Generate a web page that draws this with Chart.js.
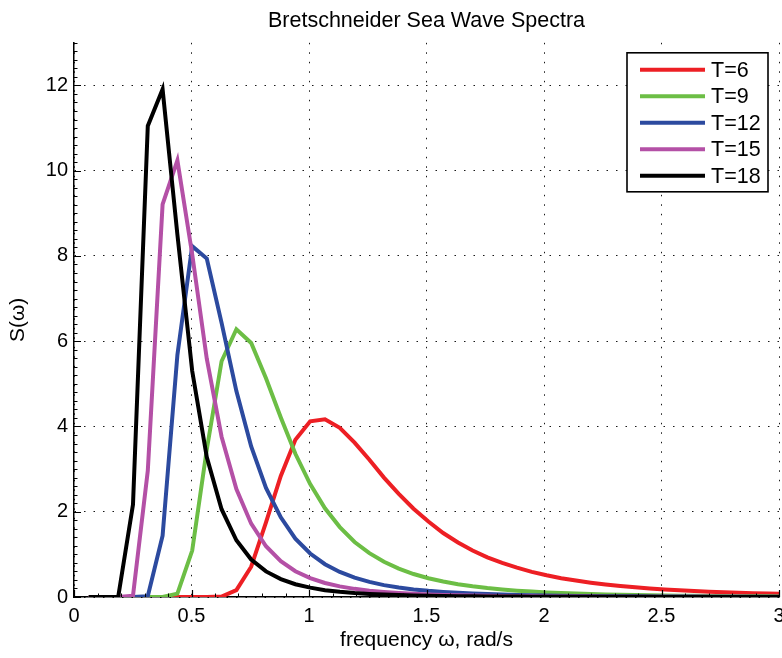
<!DOCTYPE html>
<html>
<head>
<meta charset="utf-8">
<script src="https://cdn.jsdelivr.net/npm/chart.js@4/dist/chart.umd.min.js"></script>
<style>
html,body{margin:0;padding:0;background:#fff;}
canvas{display:block;}
</style>
</head>
<body>
<canvas id="c" width="782" height="658" style="width:782px;height:658px"></canvas>
<script>
// frequency samples (rad/s)
const omega = [0.063,0.126,0.188,0.251,0.314,0.377,0.440,0.503,0.565,0.628,0.691,0.754,0.817,0.880,0.942,1.005,1.068,1.131,1.194,1.257,1.319,1.382,1.445,1.508,1.571,1.634,1.696,1.759,1.822,1.885,1.948,2.011,2.073,2.136,2.199,2.262,2.325,2.388,2.450,2.513,2.576,2.639,2.702,2.765,2.827,2.890,2.953,3.016];

// spectral density values
const S_T6  = [0,0,0,0,0,0,0,0,0,0.01,0.16,0.71,1.75,2.84,3.69,4.12,4.17,3.97,3.62,3.22,2.80,2.42,2.07,1.77,1.50,1.28,1.09,0.93,0.80,0.69,0.59,0.51,0.44,0.385,0.336,0.294,0.258,0.227,0.200,0.177,0.157,0.139,0.124,0.111,0.099,0.089,0.080,0.072];
const S_T9  = [0,0,0,0,0,0,0.08,1.09,3.46,5.53,6.28,5.96,5.13,4.21,3.36,2.65,2.08,1.64,1.29,1.03,0.825,0.665,0.539,0.440,0.362,0.300,0.250,0.209,0.176,0.149,0.127,0.108,0.092,0.080,0.069,0.060,0.053,0.046,0.041,0.036,0.032,0.028,0.025,0.022,0.020,0.018,0.016,0.014];
const S_T12 = [0,0,0,0,0.02,1.44,5.68,8.23,7.94,6.43,4.83,3.53,2.56,1.87,1.37,1.02,0.770,0.587,0.453,0.354,0.279,0.222,0.178,0.144,0.119,0.098,0.081,0.068,0.057,0.048,0.041,0.035,0.030,0.026,0.022,0.019,0.017,0.015,0.013,0.011,0.010,0.009,0.008,0.007,0.006,0.006,0.005,0.005];
const S_T15 = [0,0,0,0.03,2.96,9.21,10.24,8.04,5.59,3.76,2.53,1.72,1.19,0.840,0.604,0.442,0.329,0.249,0.191,0.148,0.117,0.093,0.074,0.060,0.049,0.040,0.034,0.028,0.023,0.020,0.017,0.014,0.012,0.011,0.009,0.008,0.007,0.006,0.005,0.005,0.004,0.004,0.003,0.003,0.003,0.002,0.002,0.002];
const S_T18 = [0,0,0,2.17,11.05,11.91,8.50,5.30,3.28,2.06,1.33,0.88,0.60,0.42,0.30,0.22,0.160,0.121,0.092,0.072,0.057,0.045,0.036,0.029,0.024,0.020,0.016,0.014,0.011,0.010,0.008,0.007,0.006,0.005,0.004,0.004,0.003,0.003,0.003,0.002,0.002,0.002,0.002,0.001,0.001,0.001,0.001,0.001];

const seriesLabels = ['T=6','T=9','T=12','T=15','T=18'];
const seriesValues = [S_T6, S_T9, S_T12, S_T15, S_T18];
const seriesColors = ['#ED1F24','#6CBE45','#2C4A9F','#B450A6','#000000'];

const xTickValues = [0,0.5,1,1.5,2,2.5,3];
const yTickValues = [0,2,4,6,8,10,12];

const FONT = "'Liberation Sans', Arial, Helvetica, sans-serif";
const FS = 20;

const datasets = seriesValues.map((vals, i) => ({
  label: seriesLabels[i],
  data: omega.map((w, j) => ({x: w, y: vals[j]})),
  borderColor: seriesColors[i],
  backgroundColor: seriesColors[i],
  borderWidth: 4,
  pointRadius: 0,
  tension: 0,
  fill: false,
  borderJoinStyle: 'miter',
  order: seriesValues.length - i
}));

const inwardTicks = {
  id: 'inwardTicks',
  afterDatasetsDraw(chart) {
    const {ctx, chartArea, scales} = chart;
    const xs = scales.x, ys = scales.y;
    ctx.save();
    ctx.strokeStyle = '#000';
    ctx.lineWidth = 1;
    ctx.beginPath();
    for (let v = 0; v <= 13.001; v += 0.2) {
      const py = Math.round(ys.getPixelForValue(v)) + 0.5;
      ctx.moveTo(chartArea.left, py); ctx.lineTo(chartArea.left + 3.5, py);
    }
    for (let v = 0; v <= 3.001; v += 0.1) {
      const px = Math.round(xs.getPixelForValue(v)) + 0.5;
      ctx.moveTo(px, chartArea.bottom); ctx.lineTo(px, chartArea.bottom - 3.5);
    }
    ctx.stroke();
    ctx.lineWidth = 1.2;
    ctx.beginPath();
    yTickValues.forEach(v => {
      const py = Math.round(ys.getPixelForValue(v)) + 0.5;
      ctx.moveTo(chartArea.left, py); ctx.lineTo(chartArea.left + 7, py);
    });
    xTickValues.forEach(v => {
      const px = Math.round(xs.getPixelForValue(v)) + 0.5;
      ctx.moveTo(px, chartArea.bottom); ctx.lineTo(px, chartArea.bottom - 7);
    });
    ctx.stroke();
    ctx.restore();
  }
};

const boxLegend = {
  id: 'boxLegend',
  afterDraw(chart) {
    const {ctx, chartArea} = chart;
    const x0 = chartArea.right - 152, y0 = chartArea.top + 10, w = 141, h = 139;
    ctx.save();
    ctx.fillStyle = '#fff';
    ctx.fillRect(x0, y0, w, h);
    ctx.strokeStyle = '#000';
    ctx.lineWidth = 1.6;
    ctx.strokeRect(x0, y0, w, h);
    chart.data.datasets.forEach((ds, i) => {
      const y = y0 + 17 + i * 26.5;
      ctx.strokeStyle = ds.borderColor;
      ctx.lineWidth = 4;
      ctx.beginPath();
      ctx.moveTo(x0 + 13, y); ctx.lineTo(x0 + 78, y);
      ctx.stroke();
      ctx.fillStyle = '#000';
      ctx.font = '21.5px ' + FONT;
      ctx.textAlign = 'left';
      ctx.textBaseline = 'middle';
      ctx.fillText(ds.label, x0 + 84, y + 1);
    });
    ctx.restore();
  }
};

new Chart(document.getElementById('c'), {
  type: 'line',
  data: { datasets },
  plugins: [inwardTicks, boxLegend],
  options: {
    responsive: false,
    animation: false,
    devicePixelRatio: 1,
    layout: { padding: { left: 0, right: 3, top: 0, bottom: 0 } },
    plugins: {
      legend: { display: false },
      tooltip: { enabled: false },
      title: {
        display: true,
        text: 'Bretschneider Sea Wave Spectra',
        color: '#000',
        font: { family: FONT, size: 21.5, weight: 'normal' },
        padding: { top: 8, bottom: 9 },
        fullSize: false
      }
    },
    scales: {
      x: {
        type: 'linear',
        min: 0, max: 3,
        afterBuildTicks(scale) { scale.ticks = xTickValues.map(v => ({value: v})); },
        afterFit(scale) { scale.height = 61; scale.paddingLeft = 0; scale.paddingRight = 0; },
        ticks: { color: '#000', font: { family: FONT, size: FS }, padding: 7, maxRotation: 0, autoSkip: false,
                 callback: v => String(v) },
        grid: { color: 'rgba(0,0,0,0.9)', lineWidth: 1, drawTicks: false },
        border: { display: true, color: '#000', width: 1.5, dash: [1.5, 8] },
        title: { display: true, text: 'frequency \u03c9, rad/s', color: '#000', font: { family: FONT, size: 21 }, padding: { top: 0, bottom: 5 } }
      },
      y: {
        type: 'linear',
        min: 0, max: 13,
        afterBuildTicks(scale) { scale.ticks = yTickValues.map(v => ({value: v})); },
        afterFit(scale) { scale.width = 74; scale.paddingTop = 0; scale.paddingBottom = 0; },
        ticks: { color: '#000', font: { family: FONT, size: FS }, padding: 6, autoSkip: false,
                 callback: v => String(v) },
        grid: { color: 'rgba(0,0,0,0.9)', lineWidth: 1, drawTicks: false },
        border: { display: true, color: '#000', width: 1.5, dash: [1.5, 8] },
        title: { display: true, text: 'S(\u03c9)', color: '#000', font: { family: FONT, size: 21 }, padding: { top: 6, bottom: 0 } }
      }
    }
  }
});
</script>
</body>
</html>
